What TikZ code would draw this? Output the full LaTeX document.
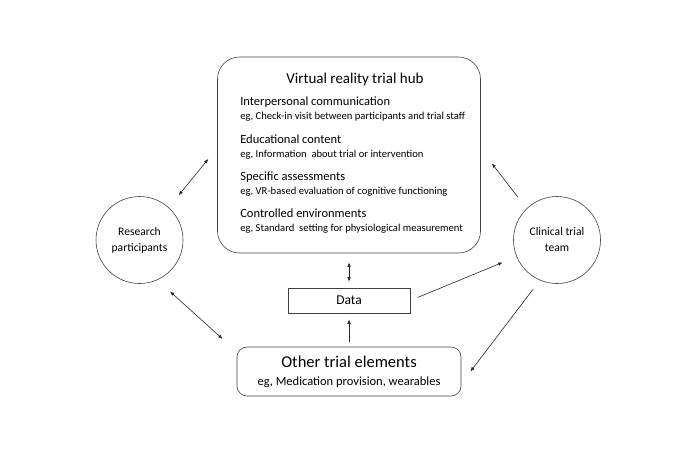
\documentclass[tikz,border=0pt]{standalone}
\usepackage{fontspec}
\setmainfont{Carlito}
\usetikzlibrary{arrows.meta}
\begin{document}
\begin{tikzpicture}[x=1pt,y=-1pt,line width=0.6pt,
		frame/.style={draw=black!75,rounded corners=#1,inner sep=0pt},
		circ/.style={draw=black!75,circle,minimum size=87pt,inner sep=0pt,align=center,font=\fontsize{11.6}{16}\selectfont},
		head/.style={anchor=base west,inner sep=0pt,font=\fontsize{12.5}{14}\selectfont},
		eg/.style={anchor=base west,inner sep=0pt,font=\fontsize{10.6}{12}\selectfont},
		arr/.style={draw=black!85,-{Latex[length=4.5pt,width=3.5pt]}},
		darr/.style={draw=black!85,{Latex[length=4.5pt,width=3.5pt]}-{Latex[length=4.5pt,width=3.5pt]}}]
	\useasboundingbox (0,0) rectangle (696,467);
	\node[frame=22pt,minimum width=263pt,minimum height=196pt] (hub) at (349,155) {};
	\node[font=\fontsize{15}{18}\selectfont] (title) at (355,79) {Virtual reality trial hub};
	\foreach \i/\y/\h/\e in {1/105/Interpersonal communication/{eg, Check-in visit between participants and trial staff},
			2/143/Educational content/{eg, Information\ \ about trial or intervention},
			3/180/Specific assessments/{eg, VR-based evaluation of cognitive functioning},
			4/217/Controlled environments/{eg, Standard\ \ setting for physiological measurement}}{
		\node[head] (head\i) at (240,\y) {\h};
		\node[eg] (eg\i) at (240,\y+14.5) {\e};
	}
	\node[frame=0pt,minimum width=122pt,minimum height=25pt,font=\fontsize{13.5}{16}\selectfont] (data) at (349,300.5) {Data};
	\node[frame=10pt,minimum width=224pt,minimum height=49pt] (other) at (349,371.5) {};
	\node[font=\fontsize{16.5}{19}\selectfont] (otitle) at (349,362) {Other trial elements};
	\node[font=\fontsize{12.5}{14}\selectfont] (oeg) at (349,382.5) {eg, Medication provision, wearables};
	\node[circ] (rp) at (139.5,240) {Research\\participants};
	\node[circ] (ct) at (557,240) {Clinical trial\\team};
	\draw[darr,shorten <=15.6pt,shorten >=14pt] (rp.48) -- ([yshift=7pt]hub.west);
	\draw[darr,shorten <=17pt,shorten >=19pt] (rp.-66) -- ([yshift=-5pt]other.north west);
	\draw[darr,shorten <=9pt,shorten >=6pt] (hub.south) -- (data.north);
	\draw[arr,shorten <=5pt,shorten >=6pt] (other.north) -- (data.south);
	\draw[arr,shorten <=8pt,shorten >=15pt] (data.east) -- (ct);
	\draw[arr,shorten <=14.6pt,shorten >=18pt] (ct.134) -- ([yshift=6pt]hub.east);
	\draw[arr,shorten <=11pt,shorten >=15pt] (ct.-113) -- ([yshift=-12pt]other.east);
\end{tikzpicture}
\end{document}
